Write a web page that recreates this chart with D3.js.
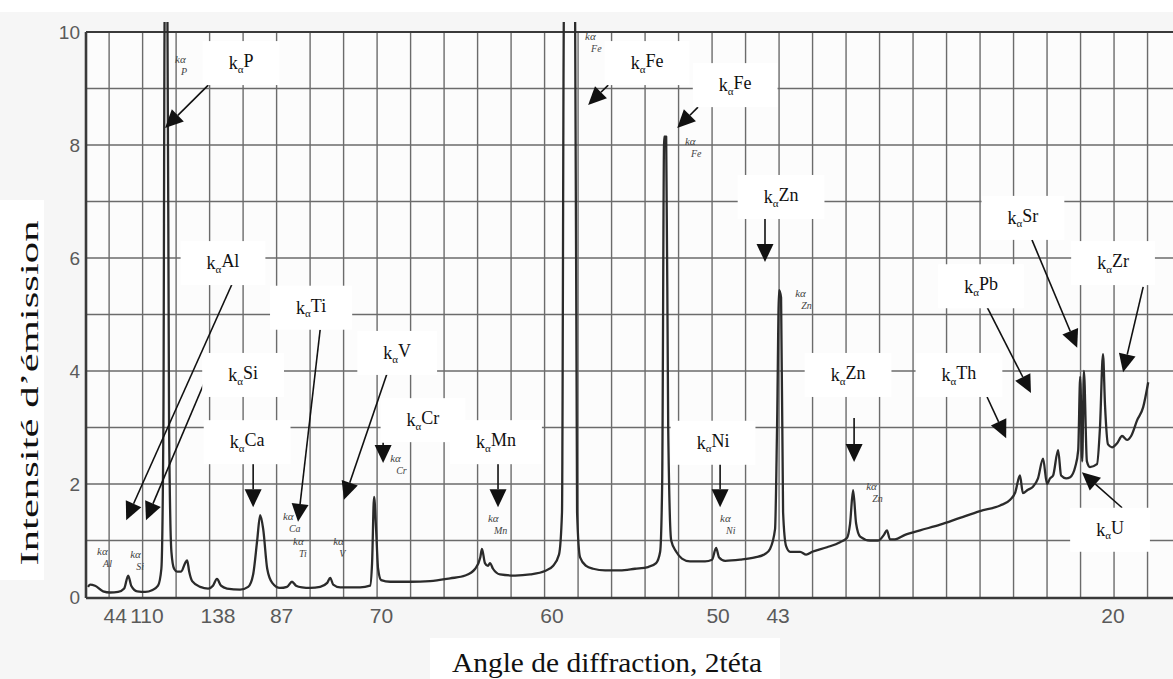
<!DOCTYPE html>
<html><head><meta charset="utf-8">
<script src="https://cdn.jsdelivr.net/npm/d3@7"></script>
<style>
html,body{margin:0;padding:0;background:#f6f6f6;}
svg{display:block;}
</style></head>
<body>
<svg id="chart" width="1173" height="679"></svg>
<script>
// ---- data (x in tenths of a chart division, y = emission intensity) ----
const specPos = [-6.3,-5.7,-4.2,-1.8,0.3,2.7,4.5,5.7,6.6,8.4,10.8,12.8,14.6,15.6,16.2,16.6,17.4,17.9,18.6,19.4,20.3,21.5,22.7,23.3,23.9,24.8,27.2,29.6,31.0,32.2,33.4,35.2,39.1,41.5,43.0,44.2,45.1,46.0,47.2,48.7,51.0,53.1,54.6,55.8,57.6,60.0,63.0,65.1,66.0,66.9,69.0,74.9,77.9,78.5,79.1,79.7,80.3,81.2,83.9,89.9,95.8,101.8,106.3,109.3,110.8,111.3,112.2,113.1,113.7,114.6,116.7,121.2,125.7,130.1,132.5,134.3,135.2,135.8,139.1,139.7,140.6,142.4,144.5,148.1,152.5,157.0,160.9,163.3,164.5,165.1,165.7,166.3,166.9,167.8,169.3,171.0,173.4,177.9,180.0,181.2,182.1,183.9,188.4,192.8,195.8,197.3,198.8,199.4,200.0,200.6,201.2,202.1,203.3,206.3,208.1,209.9,214.3,218.2,220.3,221.2,222.1,223.0,224.2,227.2,229.6,231.3,232.2,233.1,234.6,237.6,242.1,248.1,254.0,260.0,266.0,269.0,270.5,271.9,272.8,274.3,275.8,277.3,278.8,280.0,280.9,281.8,283.3,284.2,285.7,286.9,288.4,289.3,289.9,290.5,291.0,291.9,292.8,294.9,295.8,296.7,297.3,298.2,299.4,300.9,302.4,303.9,305.1,306.9,308.7,310.2];
const specVal = [0.18,0.22,0.2,0.1,0.08,0.09,0.15,0.38,0.2,0.1,0.09,0.12,0.2,0.5,3.0,10.4,10.4,3.0,0.8,0.5,0.45,0.45,0.6,0.65,0.45,0.28,0.18,0.15,0.2,0.32,0.2,0.15,0.13,0.18,0.4,1.0,1.45,1.2,0.5,0.25,0.16,0.18,0.27,0.2,0.17,0.16,0.18,0.25,0.34,0.22,0.17,0.17,0.2,0.6,1.77,1.2,0.5,0.3,0.27,0.27,0.28,0.33,0.38,0.5,0.7,0.85,0.6,0.55,0.6,0.5,0.4,0.38,0.4,0.46,0.55,0.75,1.5,10.5,10.5,1.5,0.7,0.55,0.5,0.47,0.47,0.5,0.53,0.6,0.8,2.0,8.15,8.15,3.0,1.0,0.8,0.68,0.63,0.63,0.66,0.87,0.7,0.64,0.66,0.7,0.76,0.85,1.2,3.0,5.43,5.3,1.5,0.9,0.8,0.8,0.75,0.8,0.88,0.97,1.05,1.3,1.89,1.3,1.07,1.0,1.0,1.1,1.18,1.02,1.02,1.1,1.18,1.28,1.4,1.52,1.62,1.72,1.85,2.15,1.84,1.9,1.95,2.1,2.45,2.0,2.1,2.15,2.6,2.15,2.1,2.12,2.3,2.6,3.9,2.4,4.0,2.4,2.3,2.35,3.0,4.3,3.4,2.7,2.65,2.72,2.85,2.78,2.85,3.13,3.36,3.8];

const xTickPos = [1.8, 11.3, 32.5, 51.5, 81.3, 132.2, 181.8, 199.7, 299.7];
const xTickLabels = ["44","110","138","87","70","60","50","43","20"];
const yTickVals = [0,2,4,6,8,10];
const yTickLabels = ["0","2","4","6","8","10"];

const labelElem = ["P","Fe","Fe","Zn","Sr","Al","Zr","Pb","Ti","V","Si","Zn","Th","Cr","Ca","Mn","Ni","U"];
const labelX    = [39.4,160.6,186.9,200.6,272.8,34.0,299.7,260.3,60.3,86.0,40.0,220.6,253.7,93.7,41.2,115.5,180.3,298.8];
const labelY    = [9.45,9.45,9.06,7.08,6.71,5.91,5.91,5.50,5.12,4.32,3.93,3.93,3.93,3.13,2.74,2.74,2.73,1.19];
const arrowX0   = [29.6,149.0,175.8,195.8,275.5,36.7,308.7,262.1,63.0,83.0,29.6,222.4,262.1,81.8,43.0,116.1,182.4,302.4];
const arrowY0   = [9.06,9.06,8.67,6.71,6.32,5.54,5.49,5.13,4.73,3.96,3.96,3.17,3.54,2.73,2.37,2.37,2.39,1.58];
const arrowX1   = [16.7,143.0,169.6,195.8,289.0,5.1,302.7,275.2,56.4,70.1,11.0,222.4,267.8,81.8,43.0,116.1,182.4,290.4];
const arrowY1   = [8.30,8.71,8.30,5.93,4.41,1.36,3.98,3.61,1.33,1.72,1.36,2.39,2.81,2.37,1.59,1.59,1.59,2.21];

// small handwritten peak notes on the recorder paper
const noteElem = ["P","Fe","Fe","Zn","Zn","Cr","Mn","Ni","Ca","Ti","V","Si","Al"];
const noteX    = [19.7,142.1,171.9,204.8,226.0,83.9,113.1,182.4,51.9,54.9,66.9,6.3,-3.6];
const noteY    = [9.46,9.86,8.0,5.31,1.89,2.39,1.33,1.33,1.36,0.92,0.92,0.69,0.74];

const xTitle = "Angle de diffraction, 2téta";
const yTitle = "Intensité d’émission";

// ---- drawing ----
const svg = d3.select("#chart");
const W = 1173, H = 679;
const x = d3.scaleLinear().domain([-6.9, 317.6]).range([86, 1173]);
const y = d3.scaleLinear().domain([0, 10]).range([597, 32]);

// background patches
svg.append("rect").attr("x",0).attr("y",0).attr("width",W).attr("height",12).attr("fill","#ffffff");
svg.append("rect").attr("x",0).attr("y",200).attr("width",44).attr("height",380).attr("fill","#ffffff");
svg.append("rect").attr("x",x.range()[0]).attr("y",y(10)).attr("width",W - x.range()[0]).attr("height",y(0)-y(10)).attr("fill","#fcfcfc");

// grid
const gridColor = "#6b6b6b";
const vGrid = d3.range(0, 311, 10);
svg.append("g").selectAll("line").data(vGrid).join("line")
  .attr("x1", d => x(d)).attr("x2", d => x(d))
  .attr("y1", y(10)).attr("y2", y(0))
  .attr("stroke", gridColor).attr("stroke-width", 1.4);
const hGrid = d3.range(1, 10);
svg.append("g").selectAll("line").data(hGrid).join("line")
  .attr("x1", x.range()[0]).attr("x2", W)
  .attr("y1", d => y(d)).attr("y2", d => y(d))
  .attr("stroke", gridColor).attr("stroke-width", 1.4);

// frame
svg.append("line").attr("x1", x.range()[0]).attr("x2", W).attr("y1", y(10)).attr("y2", y(10)).attr("stroke","#3a3a3a").attr("stroke-width",2);
svg.append("line").attr("x1", x.range()[0]).attr("x2", W).attr("y1", y(0)+1).attr("y2", y(0)+1).attr("stroke","#3a3a3a").attr("stroke-width",2.4);
svg.append("line").attr("x1", x.range()[0]).attr("x2", x.range()[0]).attr("y1", y(10)).attr("y2", y(0)+1).attr("stroke","#3a3a3a").attr("stroke-width",2.6);

// axes tick labels
const axisFont = "'Liberation Sans Narrow','Liberation Sans',Arial,sans-serif";
svg.append("g").selectAll("text").data(xTickPos).join("text")
  .attr("x", d => x(d)).attr("y", 623)
  .attr("text-anchor","middle")
  .attr("font-family", axisFont).attr("font-size", 21).attr("fill","#5a5a5a")
  .text((d,i) => xTickLabels[i]);
svg.append("g").selectAll("text").data(yTickVals).join("text")
  .attr("x", 80).attr("y", d => y(d)).attr("dy","0.36em")
  .attr("text-anchor","end")
  .attr("font-family", axisFont).attr("font-size", 19).attr("fill","#5a5a5a")
  .text((d,i) => yTickLabels[i]);

// handwritten notes
const labFont = "'Liberation Serif','Times New Roman',serif";
const ng = svg.append("g").attr("fill","#444").attr("font-family", labFont).attr("font-style","italic");
noteElem.forEach((d,i) => {
  ng.append("text").attr("x", x(noteX[i])).attr("y", y(noteY[i])).attr("font-size", 11).text("kα");
  ng.append("text").attr("x", x(noteX[i]) + 6).attr("y", y(noteY[i]) + 12).attr("font-size", 10).text(d);
});

// spectrum
svg.append("clipPath").attr("id","clip").append("rect")
  .attr("x", x.range()[0]).attr("y", 22).attr("width", W).attr("height", y(0) - 22);
const pts = specPos.map((p,i) => [p, specVal[i]]);
svg.append("path").datum(pts)
  .attr("clip-path","url(#clip)")
  .attr("fill","none").attr("stroke","#2b2b2b").attr("stroke-width",2.3)
  .attr("stroke-linejoin","round")
  .attr("d", d3.line().x(d => x(d[0])).y(d => y(d[1])).curve(d3.curveMonotoneX));

// label boxes + texts
const lg = svg.append("g");
lg.selectAll("g.lab").data(labelElem).join("g").attr("class","lab").each(function(d,i){
  const g = d3.select(this);
  const box = g.append("rect").attr("fill","#ffffff");
  const t = g.append("text")
    .attr("x", x(labelX[i])).attr("y", y(labelY[i])).attr("dy","0.35em")
    .attr("text-anchor","middle")
    .attr("font-family", labFont).attr("font-size", 18).attr("fill","#111");
  t.append("tspan").text("k");
  t.append("tspan").attr("font-size", 11).attr("dy", "0.3em").text("α");
  t.append("tspan").attr("dy", "-0.3em").text(d);
  const w = t.node().getComputedTextLength();
  box.attr("x", x(labelX[i]) - w/2 - 26).attr("y", y(labelY[i]) - 22)
     .attr("width", w + 52).attr("height", 44);
});
// arrows
const ag = svg.append("g");
labelElem.forEach((d,i) => {
  const sx = x(arrowX0[i]), sy = y(arrowY0[i]);
  const tx = x(arrowX1[i]), ty = y(arrowY1[i]);
  const dx = tx - sx, dy = ty - sy, L = Math.hypot(dx, dy);
  const ux = dx / L, uy = dy / L;
  const hl = 18, hw = 8.5;
  const bx = tx - ux*hl, by = ty - uy*hl;
  ag.append("line").attr("x1", sx).attr("y1", sy).attr("x2", bx).attr("y2", by)
    .attr("stroke","#111").attr("stroke-width",1.6);
  ag.append("path")
    .attr("d", `M${tx},${ty}L${bx - uy*hw},${by + ux*hw}L${bx + uy*hw},${by - ux*hw}Z`)
    .attr("fill","#111");
});
lg.raise();

// titles
svg.append("rect").attr("x",430).attr("y",638).attr("width",350).attr("height",41).attr("fill","#ffffff");
svg.append("text").attr("x", 607).attr("y", 672).attr("text-anchor","middle")
  .attr("font-family", labFont).attr("font-size", 28).attr("fill","#111")
  .attr("textLength", 310).attr("lengthAdjust","spacingAndGlyphs").text(xTitle);
svg.append("text").attr("transform","translate(38,393) rotate(-90)").attr("text-anchor","middle")
  .attr("font-family", labFont).attr("font-size", 26).attr("fill","#111")
  .attr("textLength", 345).attr("lengthAdjust","spacingAndGlyphs").text(yTitle);
</script>
</body></html>
